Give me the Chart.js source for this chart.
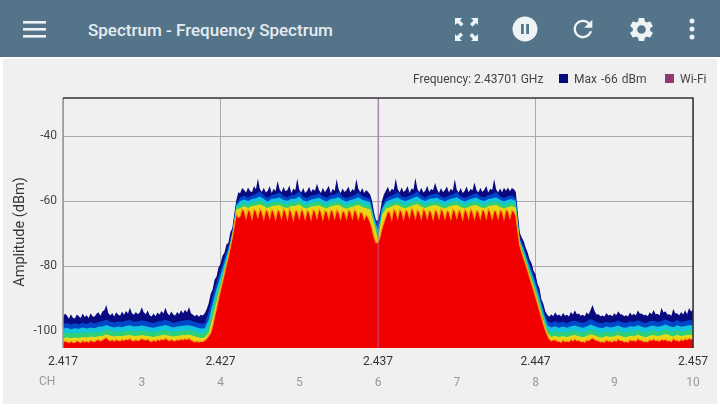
<!DOCTYPE html>
<html>
<head>
<meta charset="utf-8">
<title>Spectrum - Frequency Spectrum</title>
<script src="https://cdn.jsdelivr.net/npm/chart.js@4"></script>
<style>
  html, body { margin: 0; padding: 0; background: #fff; overflow: hidden; }
  body { width: 720px; height: 407px; position: relative; font-family: Roboto, sans-serif; }
  #panel { position: absolute; left: 3px; top: 59px; width: 714px; height: 345px; background: #f0f0f0; }
  #topbar { position: absolute; left: 0; top: 0; width: 720px; height: 57px; background: #54748a; }
  #title { position: absolute; left: 88px; top: 20px; font-size: 17px; font-weight: 500; color: #e6edf1; white-space: nowrap; }
  #topbar svg { position: absolute; fill: #eef3f5; }
  #chart { position: absolute; left: 0; top: 0; filter: blur(0.4px); }
  .txt { position: absolute; font-size: 12px; color: #444; white-space: nowrap; }
  .box { position: absolute; width: 9px; height: 9px; }
</style>
</head>
<body>
<div id="panel"></div>
<div id="topbar">
  <svg style="left:21px;top:17px" width="27" height="24" viewBox="0 0 27 24"><rect x="2" y="4" width="23" height="2.6"/><rect x="2" y="11" width="23" height="2.6"/><rect x="2" y="18" width="23" height="2.6"/></svg>
  <div id="title">Spectrum - Frequency Spectrum</div>
  <svg style="left:454px;top:17px" width="25" height="25" viewBox="0 0 25 25"><path d="M1 1h7L6 3.500 9.500 7 7 9.500 3.500 6 1 8zM24 1v7l-2-2-3.500 3.500L16 7l3.500-3.500L17 1zM1 24v-7l2 2 3.500-3.500L9 18l-3.500 3.500L8 24zM24 24h-7l2-2-3.500-3.500L18 16l3.500 3.500L24 17z"/></svg>
  <svg style="left:512px;top:16px" width="26" height="26" viewBox="0 0 26 26"><circle cx="13" cy="13" r="12.500"/><rect x="9" y="8" width="2.800" height="10" fill="#54748a"/><rect x="14.200" y="8" width="2.800" height="10" fill="#54748a"/></svg>
  <svg style="left:569px;top:15px" width="28" height="28" viewBox="0 0 24 24"><path d="M17.650 6.350C16.200 4.900 14.210 4 12 4c-4.420 0-7.990 3.580-7.990 8s3.570 8 7.990 8c3.730 0 6.840-2.550 7.730-6h-2.080c-.82 2.330-3.040 4-5.650 4-3.310 0-6-2.690-6-6s2.690-6 6-6c1.660 0 3.140.69 4.220 1.780L13 11h7V4l-2.350 2.350z"/></svg>
  <svg style="left:627px;top:15px" width="29" height="29" viewBox="0 0 24 24"><path d="M19.140 12.940c.04-.3.06-.61.06-.94 0-.32-.02-.64-.07-.94l2.030-1.580c.18-.14.23-.41.12-.61l-1.920-3.320c-.12-.22-.37-.29-.59-.22l-2.390.96c-.5-.38-1.030-.7-1.620-.94l-.36-2.540c-.04-.24-.24-.41-.48-.41h-3.840c-.24 0-.43.17-.47.41l-.36 2.540c-.59.24-1.130.57-1.620.94l-2.390-.96c-.22-.08-.47 0-.59.22L2.740 8.870c-.12.21-.08.47.12.61l2.030 1.580c-.05.3-.09.63-.09.94s.02.64.07.94l-2.030 1.580c-.18.14-.23.41-.12.61l1.920 3.320c.12.22.37.29.59.22l2.390-.96c.5.38 1.030.7 1.620.94l.36 2.540c.05.24.24.41.48.41h3.840c.24 0 .44-.17.47-.41l.36-2.540c.59-.24 1.130-.56 1.620-.94l2.390.96c.22.08.47 0 .59-.22l1.920-3.320c.12-.22.07-.47-.12-.61l-2.010-1.580zM12 15.600c-1.980 0-3.600-1.620-3.600-3.600s1.620-3.600 3.600-3.600 3.600 1.620 3.600 3.600-1.620 3.600-3.600 3.600z"/></svg>
  <svg style="left:686px;top:17px" width="12" height="24" viewBox="0 0 12 24"><circle cx="6" cy="4" r="2.500"/><circle cx="6" cy="12" r="2.500"/><circle cx="6" cy="20" r="2.500"/></svg>
</div>

<canvas id="chart" width="720" height="407"></canvas>

<span class="txt" style="left:413px;top:72px">Frequency: 2.43701 GHz</span>
<span class="box" style="left:559px;top:74px;background:#0a0a80"></span>
<span class="txt" style="left:574px;top:72px;word-spacing:1px">Max -66 dBm</span>
<span class="box" style="left:665px;top:74px;background:#8e3a6e"></span>
<span class="txt" style="left:680px;top:72px">Wi-Fi</span>
<span class="txt" style="left:39px;top:374px;color:#999">CH</span>
<span class="txt" style="left:19px;top:232px;font-size:14.5px;color:#333;transform:translate(-50%,-50%) rotate(-90deg)">Amplitude (dBm)</span>

<script>
const freqStart = 2.417;
const freqStep = 0.00025;
const fineStep = 0.000125;
const freqTicks = [2.417, 2.427, 2.437, 2.447, 2.457];
const ampTicks = [-100, -80, -60, -40];
const channelFreqs = [2.422, 2.427, 2.432, 2.437, 2.442, 2.447, 2.452, 2.457];
const channelNames = ["3", "4", "5", "6", "7", "8", "9", "10"];
const markerFreq = 2.43701;

// top and bottom edges are read every 0.125 MHz, twenty to a row (dBm)
const maxTrace = [
  -95.8,-94.6,-95.2,-96.2,-94.8,-95.9,-96.1,-94.9,-95.4,-96.0,-94.6,-95.7,-95.1,-96.0,-94.5,-95.4,-95.6,-94.7,-94.2,-95.3,
  -94.0,-93.6,-92.0,-94.4,-95.2,-94.4,-95.5,-94.2,-94.9,-95.3,-94.0,-95.0,-93.8,-94.6,-92.8,-94.5,-95.0,-94.1,-94.8,-94.3,
  -92.7,-94.2,-94.8,-93.7,-95.1,-95.5,-94.6,-95.4,-94.3,-94.9,-93.8,-94.6,-92.8,-94.4,-95.2,-94.0,-94.9,-95.2,-94.1,-94.8,
  -93.6,-94.5,-93.4,-94.3,-92.6,-94.5,-95.0,-95.4,-94.9,-95.6,-95.0,-95.2,-94.5,-93.2,-91.4,-88.6,-87.2,-84.2,-83.2,-80.4,
  -79.4,-76.8,-75.9,-73.4,-72.8,-69.6,-68.4,-64.0,-59.9,-57.4,-57.5,-56.0,-56.6,-57.4,-55.8,-56.9,-57.3,-55.4,-56.4,-53.1,
  -56.3,-57.2,-55.9,-57.4,-56.8,-55.4,-57.5,-56.2,-56.9,-53.8,-56.4,-57.3,-55.7,-57.0,-56.6,-55.2,-57.6,-56.1,-56.7,-53.1,
  -56.5,-57.4,-56.0,-57.5,-56.9,-55.6,-57.2,-56.3,-56.8,-54.7,-56.6,-57.5,-55.9,-57.3,-56.4,-55.3,-57.6,-56.2,-56.9,-53.2,
  -56.4,-57.6,-56.1,-57.2,-56.7,-55.5,-57.4,-56.3,-56.8,-53.2,-56.2,-57.3,-56.0,-57.5,-56.6,-57.2,-58.0,-60.0,-63.5,-66.0,
  -66.0,-63.5,-60.0,-58.0,-56.8,-55.6,-57.3,-56.2,-56.6,-53.1,-56.3,-57.4,-55.8,-57.2,-56.7,-55.4,-57.5,-56.1,-56.5,-52.9,
  -56.2,-57.3,-55.9,-57.4,-56.8,-55.3,-57.2,-56.3,-56.7,-54.4,-56.4,-57.5,-56.0,-57.3,-56.6,-55.5,-57.4,-56.2,-56.8,-53.2,
  -56.5,-57.4,-56.0,-57.5,-56.9,-55.5,-57.3,-56.3,-56.7,-54.3,-56.6,-57.4,-55.9,-57.2,-56.5,-55.4,-57.4,-56.2,-56.6,-53.2,
  -56.4,-57.4,-56.1,-57.3,-55.9,-56.8,-55.8,-57.0,-56.0,-56.4,-57.2,-63.5,-69.7,-71.2,-72.4,-74.4,-75.8,-78.0,-79.1,-81.4,
  -82.5,-85.4,-86.8,-90.2,-91.7,-94.0,-95.0,-95.6,-94.8,-95.4,-94.2,-95.2,-94.9,-95.5,-94.4,-95.3,-95.0,-95.5,-94.1,-94.9,
  -93.6,-94.8,-94.6,-95.3,-95.0,-95.4,-94.2,-94.9,-93.4,-92.0,-93.8,-94.9,-94.8,-95.4,-95.2,-95.5,-94.4,-95.2,-95.0,-95.4,
  -94.5,-95.1,-93.9,-94.8,-94.9,-95.4,-95.1,-95.5,-94.3,-95.1,-94.7,-95.2,-93.6,-94.7,-94.6,-95.1,-95.0,-95.4,-94.2,-94.8,
  -93.5,-94.8,-94.7,-95.2,-92.8,-94.3,-93.9,-94.9,-94.8,-95.3,-93.2,-94.5,-94.6,-95.1,-94.1,-94.9,-93.6,-94.8,-92.9,-94.0,
  -93.4
];
const redEdge = [
  -103.4,-103.0,-103.2,-103.6,-103.1,-103.4,-103.5,-103.0,-103.2,-103.5,-102.9,-103.3,-103.0,-103.4,-102.8,-103.1,-103.2,-102.8,-102.6,-103.0,
  -102.7,-102.3,-102.0,-102.6,-103.0,-102.6,-103.1,-102.5,-102.9,-103.0,-102.5,-102.9,-102.4,-102.7,-102.2,-102.8,-103.0,-102.6,-102.9,-102.7,
  -102.3,-102.6,-102.8,-102.4,-103.0,-103.2,-102.7,-103.1,-102.6,-102.9,-102.4,-102.7,-102.2,-102.6,-103.0,-102.5,-102.9,-103.0,-102.6,-102.8,
  -102.4,-102.7,-102.3,-102.6,-102.2,-102.7,-103.0,-103.3,-103.0,-103.4,-103.1,-103.2,-102.8,-102.3,-101.5,-100.6,-98.4,-95.5,-92.9,-90.0,
  -87.4,-84.8,-82.2,-79.6,-77.0,-74.0,-71.2,-67.5,-63.9,-65.0,-64.6,-62.4,-63.0,-65.2,-62.6,-63.2,-65.4,-62.5,-63.0,-65.0,
  -62.4,-63.2,-65.5,-62.7,-63.1,-65.2,-62.5,-63.3,-65.6,-62.8,-63.1,-65.3,-62.4,-63.2,-65.5,-62.3,-63.4,-65.7,-62.9,-63.0,
  -65.3,-62.6,-63.2,-65.5,-62.8,-63.4,-65.6,-62.7,-63.1,-65.2,-62.4,-63.3,-65.6,-63.0,-63.2,-65.4,-62.7,-63.1,-65.3,-62.6,
  -63.3,-65.5,-63.0,-63.4,-65.4,-62.7,-63.2,-65.3,-62.6,-63.3,-65.5,-63.4,-63.5,-65.6,-64.2,-65.0,-66.5,-68.5,-71.0,-72.8,
  -72.8,-71.0,-68.5,-66.5,-64.8,-63.2,-63.4,-65.6,-62.5,-63.1,-65.3,-62.6,-63.2,-65.5,-62.8,-63.1,-65.1,-62.2,-63.0,-65.2,
  -62.6,-63.3,-65.4,-62.4,-63.1,-65.3,-62.8,-63.4,-65.6,-62.7,-63.2,-65.3,-62.4,-63.1,-65.4,-62.9,-63.3,-65.5,-62.6,-63.0,
  -65.2,-62.7,-63.3,-65.6,-62.6,-63.1,-65.3,-62.4,-63.2,-65.4,-62.9,-63.2,-65.3,-62.7,-63.0,-65.3,-62.4,-63.3,-65.4,-62.9,
  -63.1,-65.3,-62.7,-63.2,-65.5,-62.6,-63.1,-65.2,-62.8,-63.2,-64.5,-69.0,-73.6,-75.6,-77.6,-79.4,-81.3,-83.3,-85.3,-87.2,
  -89.2,-91.4,-93.5,-95.6,-97.8,-99.6,-101.2,-102.4,-103.0,-102.7,-102.6,-103.1,-103.1,-103.4,-102.7,-103.2,-103.0,-103.3,-102.5,-103.0,
  -102.4,-102.9,-102.8,-103.2,-103.1,-103.4,-102.7,-103.0,-102.4,-102.1,-102.5,-102.9,-103.0,-103.3,-103.2,-103.4,-102.7,-103.1,-103.0,-103.3,
  -102.8,-103.1,-102.4,-102.9,-102.9,-103.3,-103.1,-103.4,-102.6,-103.0,-102.8,-103.1,-102.3,-102.8,-102.8,-103.2,-103.1,-103.3,-102.6,-102.9,
  -102.4,-102.9,-102.8,-103.1,-102.5,-102.8,-102.5,-103.0,-102.9,-103.2,-102.3,-102.8,-102.8,-103.1,-102.5,-102.9,-102.3,-102.7,-102.2,-102.5,
  -102.4
];

// inner bands are read every 0.25 MHz, ten to a row (dBm)
const blueEdge = [
  -97.8,-97.5,-98.0,-97.6,-97.9,-97.4,-97.8,-97.3,-97.6,-97.2,
  -97.0,-96.4,-97.1,-97.4,-97.0,-97.3,-96.8,-96.6,-97.1,-97.0,
  -96.7,-97.0,-97.3,-97.5,-97.1,-96.9,-96.5,-97.0,-97.4,-97.1,
  -96.9,-96.7,-96.5,-97.0,-97.4,-97.7,-97.6,-94.0,-89.2,-85.0,
  -81.2,-77.5,-74.0,-69.0,-60.8,-58.9,-58.3,-58.9,-58.2,-57.8,
  -57.0,-58.2,-59.0,-58.1,-57.9,-57.4,-58.5,-58.8,-58.1,-58.0,
  -57.0,-58.7,-59.0,-58.3,-58.1,-57.6,-58.5,-59.0,-58.2,-58.0,
  -57.2,-58.6,-59.1,-58.6,-58.2,-57.3,-58.5,-58.9,-59.2,-64.5,
  -67.5,-61.5,-59.2,-58.6,-58.0,-57.2,-58.6,-58.9,-58.3,-57.8,
  -57.0,-58.3,-58.9,-58.2,-57.9,-57.6,-58.6,-59.0,-58.3,-57.9,
  -57.2,-58.5,-59.0,-58.5,-58.0,-57.5,-58.6,-58.9,-58.2,-57.9,
  -57.2,-58.5,-59.0,-58.5,-58.3,-59.0,-71.0,-74.0,-77.5,-81.0,
  -84.5,-88.6,-93.3,-97.0,-97.4,-97.0,-97.5,-97.1,-97.6,-97.0,
  -96.8,-97.2,-97.5,-97.0,-96.3,-96.9,-97.4,-97.6,-97.1,-97.4,
  -97.2,-96.8,-97.3,-97.5,-97.0,-97.2,-96.7,-97.2,-97.5,-97.0,
  -96.8,-97.2,-96.9,-96.4,-96.9,-97.3,-96.6,-97.2,-96.9,-96.7,
  -96.6
];
const cyanEdge = [
  -99.3,-99.0,-99.4,-99.1,-99.3,-98.9,-99.2,-98.9,-99.1,-98.7,
  -98.6,-98.1,-98.6,-98.9,-98.6,-98.8,-98.4,-98.2,-98.6,-98.5,
  -98.3,-98.5,-98.8,-99.0,-98.7,-98.4,-98.1,-98.5,-98.9,-98.6,
  -98.4,-98.3,-98.2,-98.5,-98.9,-99.2,-99.1,-96.5,-91.5,-87.0,
  -83.0,-79.0,-75.0,-69.8,-61.4,-60.0,-59.5,-60.0,-59.4,-59.1,
  -58.6,-59.4,-60.1,-59.3,-59.2,-58.9,-59.7,-59.9,-59.3,-59.3,
  -58.6,-59.8,-60.1,-59.5,-59.3,-59.0,-59.7,-60.1,-59.4,-59.2,
  -58.8,-59.7,-60.2,-59.7,-59.4,-58.8,-59.6,-60.0,-60.3,-65.2,
  -69.0,-62.5,-60.3,-59.7,-59.2,-58.8,-59.7,-60.0,-59.5,-59.0,
  -58.6,-59.5,-60.0,-59.4,-59.1,-59.0,-59.7,-60.1,-59.5,-59.1,
  -58.8,-59.6,-60.1,-59.6,-59.2,-58.9,-59.7,-60.0,-59.4,-59.1,
  -58.8,-59.6,-60.1,-59.6,-59.4,-60.0,-71.8,-75.0,-78.6,-82.2,
  -85.8,-89.8,-94.4,-98.2,-98.9,-98.5,-99.0,-98.6,-99.0,-98.5,
  -98.3,-98.7,-99.0,-98.6,-98.0,-98.4,-98.9,-99.1,-98.6,-98.9,
  -98.7,-98.3,-98.8,-99.0,-98.5,-98.7,-98.2,-98.7,-99.0,-98.5,
  -98.3,-98.7,-98.4,-98.0,-98.4,-98.8,-98.2,-98.7,-98.4,-98.2,
  -98.2
];
const greenEdge = [
  -100.8,-100.5,-100.8,-100.5,-100.7,-100.4,-100.6,-100.3,-100.5,-100.2,
  -100.1,-99.6,-100.0,-100.3,-100.0,-100.2,-99.9,-99.8,-100.1,-100.0,
  -99.8,-100.0,-100.2,-100.4,-100.1,-99.9,-99.7,-100.0,-100.3,-100.1,
  -99.9,-99.8,-99.7,-100.0,-100.4,-100.7,-100.6,-98.5,-93.5,-88.8,
  -84.5,-80.2,-75.8,-70.3,-62.0,-61.2,-60.6,-61.1,-60.5,-60.3,
  -59.8,-60.5,-61.1,-60.4,-60.3,-60.1,-60.8,-61.0,-60.4,-60.4,
  -59.9,-60.9,-61.2,-60.6,-60.4,-60.2,-60.8,-61.2,-60.5,-60.3,
  -60.0,-60.8,-61.3,-60.8,-60.5,-60.0,-60.7,-61.1,-61.4,-66.0,
  -70.5,-63.4,-61.3,-60.8,-60.3,-60.0,-60.8,-61.1,-60.6,-60.2,
  -59.8,-60.6,-61.1,-60.5,-60.2,-60.2,-60.8,-61.2,-60.6,-60.3,
  -60.0,-60.7,-61.2,-60.7,-60.3,-60.1,-60.8,-61.1,-60.5,-60.3,
  -60.0,-60.7,-61.2,-60.7,-60.5,-61.0,-72.4,-75.8,-79.6,-83.3,
  -87.0,-91.0,-95.5,-99.5,-100.4,-100.0,-100.5,-100.1,-100.5,-100.0,
  -99.8,-100.2,-100.5,-100.1,-99.6,-99.9,-100.4,-100.6,-100.1,-100.4,
  -100.2,-99.8,-100.3,-100.5,-100.0,-100.2,-99.7,-100.2,-100.5,-100.0,
  -99.8,-100.2,-99.9,-99.5,-99.9,-100.3,-99.7,-100.2,-99.9,-99.7,
  -99.8
];
const yellowEdge = [
  -102.2,-101.9,-102.2,-102.0,-102.1,-101.8,-102.0,-101.7,-101.9,-101.6,
  -101.5,-101.0,-101.4,-101.7,-101.4,-101.6,-101.3,-101.2,-101.5,-101.4,
  -101.2,-101.4,-101.6,-101.8,-101.5,-101.3,-101.1,-101.4,-101.7,-101.5,
  -101.3,-101.2,-101.1,-101.4,-101.8,-102.1,-102.0,-100.5,-95.8,-90.8,
  -86.0,-81.2,-76.4,-70.8,-62.6,-62.2,-61.6,-62.1,-61.5,-61.4,
  -61.0,-61.6,-62.2,-61.5,-61.4,-61.2,-61.9,-62.1,-61.5,-61.5,
  -61.0,-62.0,-62.3,-61.7,-61.5,-61.3,-61.9,-62.3,-61.6,-61.4,
  -61.1,-61.9,-62.4,-61.9,-61.6,-61.1,-61.8,-62.2,-62.5,-67.0,
  -71.8,-64.3,-62.4,-61.9,-61.4,-61.1,-61.9,-62.2,-61.7,-61.3,
  -60.9,-61.7,-62.2,-61.6,-61.3,-61.3,-61.9,-62.3,-61.7,-61.4,
  -61.1,-61.8,-62.3,-61.8,-61.4,-61.2,-61.9,-62.2,-61.6,-61.4,
  -61.1,-61.8,-62.3,-61.8,-61.6,-62.0,-73.0,-76.8,-80.5,-84.3,
  -88.2,-92.3,-96.8,-100.5,-101.8,-101.4,-101.9,-101.5,-101.9,-101.4,
  -101.2,-101.6,-101.9,-101.5,-101.0,-101.3,-101.8,-102.0,-101.5,-101.8,
  -101.6,-101.2,-101.7,-101.9,-101.4,-101.6,-101.1,-101.6,-101.9,-101.4,
  -101.2,-101.6,-101.3,-100.9,-101.3,-101.7,-101.1,-101.6,-101.3,-101.1,
  -101.2
];

const ampMin = -105.2;
const ampMax = -28.3;

function toPoints(values, step) {
  return values.map((v, i) => ({ x: freqStart + i * step, y: v }));
}

// first dataset is painted on top, so the red layer comes first
function layer(values, step, color, edge) {
  return {
    data: toPoints(values, step),
    backgroundColor: color,
    borderColor: edge || color,
    borderWidth: edge ? 1.2 : 0,
    fill: "start",
    pointRadius: 0,
    tension: 0
  };
}

const frame = {
  id: "frame",
  afterDraw(chart) {
    const { ctx, chartArea: a } = chart;
    ctx.save();
    ctx.lineWidth = 1.5;
    ctx.strokeStyle = "#999";
    ctx.beginPath();
    ctx.moveTo(a.left, a.top);
    ctx.lineTo(a.left, a.bottom);
    ctx.stroke();
    ctx.strokeStyle = "#333";
    ctx.beginPath();
    ctx.moveTo(a.left, a.top);
    ctx.lineTo(a.right, a.top);
    ctx.lineTo(a.right, a.bottom);
    ctx.stroke();
    ctx.restore();
  }
};

new Chart(document.getElementById("chart"), {
  type: "line",
  data: {
    datasets: [
      {
        data: [{ x: markerFreq, y: ampMin }, { x: markerFreq, y: ampMax }],
        borderColor: "rgba(170,100,190,0.45)",
        borderWidth: 2,
        pointRadius: 0
      },
      layer(redEdge, fineStep, "#f20000", "#f79a10"),
      layer(yellowEdge, freqStep, "#e8d818"),
      layer(greenEdge, freqStep, "#2ed07a"),
      layer(cyanEdge, freqStep, "#12c4dc"),
      layer(blueEdge, freqStep, "#0046c8"),
      layer(maxTrace, fineStep, "#0a0a80")
    ]
  },
  options: {
    responsive: false,
    animation: false,
    devicePixelRatio: 1,
    layout: { padding: { top: 98, right: 27, bottom: 14, left: 0 } },
    plugins: { legend: { display: false }, tooltip: { enabled: false } },
    scales: {
      x: {
        type: "linear",
        min: freqStart,
        max: 2.457,
        afterBuildTicks(s) { s.ticks = freqTicks.map(v => ({ value: v })); },
        afterFit(s) { s.height = 23; },
        grid: { color: "#aaa", lineWidth: 1, drawTicks: false },
        border: { display: false },
        ticks: {
          padding: 7,
          maxRotation: 0,
          autoSkip: false,
          color: "#333",
          font: { family: "Roboto", size: 12 },
          callback: v => v.toFixed(3)
        }
      },
      ch: {
        type: "linear",
        position: "bottom",
        min: freqStart,
        max: 2.457,
        afterBuildTicks(s) { s.ticks = channelFreqs.map(v => ({ value: v })); },
        afterFit(s) { s.height = 22; },
        grid: { display: false, drawTicks: false },
        border: { display: false },
        ticks: {
          padding: 5,
          maxRotation: 0,
          autoSkip: false,
          color: "#999",
          font: { family: "Roboto", size: 12 },
          callback: v => channelNames[channelFreqs.findIndex(f => Math.abs(f - v) < 1e-6)]
        }
      },
      y: {
        min: ampMin,
        max: ampMax,
        afterBuildTicks(s) { s.ticks = ampTicks.map(v => ({ value: v })); },
        afterFit(s) { s.width = 63; },
        grid: { color: "#aaa", lineWidth: 1, drawTicks: false },
        border: { display: false },
        ticks: {
          padding: 6,
          color: "#444",
          font: { family: "Roboto", size: 12 }
        }
      }
    }
  },
  plugins: [frame]
});
</script>
</body>
</html>
